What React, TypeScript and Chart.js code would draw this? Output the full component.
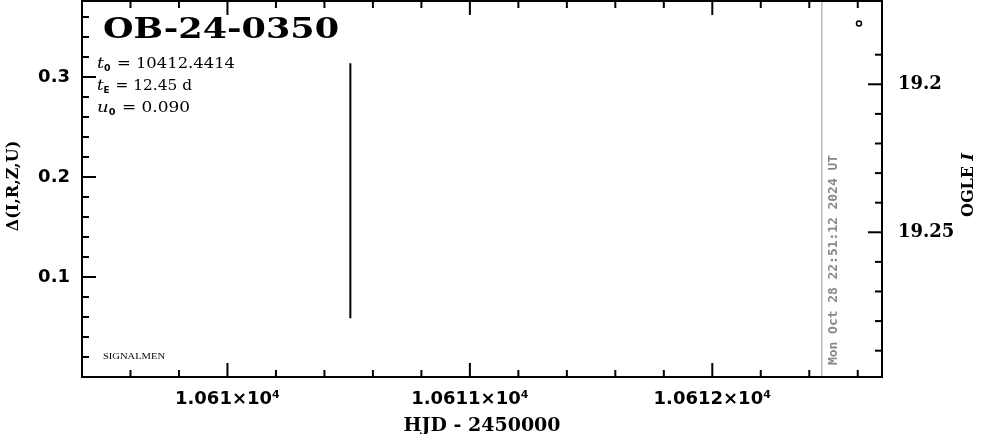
import React, { useEffect, useRef } from "react";
import { Chart, registerables } from "chart.js";
Chart.register(...registerables);

// ---- text content ----
const eventName = "OB-24-0350";
const paramT0 = "10412.4414";
const paramTE = "12.45 d";
const paramU0 = "0.090";
const footerText = "SIGNALMEN";
const nowLabel = "Mon Oct 28 22:51:12 2024 UT";
const xTitle = "HJD - 2450000";
const yTitle = "Δ(I,R,Z,U)";
const y2Title = "OGLE ";
const y2TitleItalic = "I";

// ---- axes ----
const xRange = [10609.4, 10612.7];
const xMajorTicks = [10610, 10611, 10612];
const xMajorLabels = ["1.061×10⁴", "1.0611×10⁴", "1.0612×10⁴"];
const xMinorTicks = [10609.6, 10609.8, 10610.2, 10610.4, 10610.6, 10610.8, 10611.2, 10611.4, 10611.6, 10611.8, 10612.2, 10612.4, 10612.6];

const deltaRange = [0, 0.376];
const deltaMajorTicks = [0.1, 0.2, 0.3];
const deltaMajorLabels = ["0.1", "0.2", "0.3"];
const deltaMinorTicks = [0.02, 0.04, 0.06, 0.08, 0.12, 0.14, 0.16, 0.18, 0.22, 0.24, 0.26, 0.28, 0.32, 0.34, 0.36];

const magRange = [19.17186, 19.29889];
const magMajorTicks = [19.2, 19.25];
const magMajorLabels = ["19.2", "19.25"];
const magMinorTicks = [19.19, 19.21, 19.22, 19.23, 19.24, 19.26, 19.27, 19.28, 19.29];

// ---- data ----
const barHJD = [10610.507, 10610.507];
const barDelta = [0.3137, 0.0587];
const pointHJD = [10612.605];
const pointDelta = [0.3534];
const nowHJD = 10612.452;

function drawFitted(ctx: CanvasRenderingContext2D, text: string, x: number, y: number, width: number, font: string) {
  ctx.font = font;
  const w = ctx.measureText(text).width;
  ctx.save();
  ctx.translate(x, y);
  ctx.scale(width / w, 1);
  ctx.fillText(text, 0, 0);
  ctx.restore();
}

function drawParam(ctx: CanvasRenderingContext2D, x: number, y: number, sym: string, sub: string, value: string, width: number) {
  const symFont = "italic 15px 'DejaVu Serif'";
  const subFont = "bold 8px 'DejaVu Sans'";
  const valFont = "14px 'DejaVu Serif'";
  ctx.font = symFont; const w1 = ctx.measureText(sym).width;
  ctx.font = subFont; const w2 = ctx.measureText(sub).width;
  const rest = " = " + value;
  ctx.font = valFont; const w3 = ctx.measureText(rest).width;
  const total = w1 + w2 + 1 + w3;
  ctx.save();
  ctx.translate(x, y);
  ctx.scale(width / total, 1);
  ctx.font = symFont; ctx.fillText(sym, 0, 0);
  ctx.font = subFont; ctx.fillText(sub, w1, 3);
  ctx.font = valFont; ctx.fillText(rest, w1 + w2 + 1, 0);
  ctx.restore();
}

const decorPlugin = {
  id: "decor",
  afterDatasetsDraw(chart: any) {
    const ctx: CanvasRenderingContext2D = chart.ctx;
    const ca = chart.chartArea;
    const xs = chart.scales.x;
    const ys = chart.scales.y;
    const y2 = chart.scales.y2;
    ctx.save();
    ctx.strokeStyle = "#000";
    ctx.lineWidth = 2;
    ctx.lineCap = "butt";
    const line = (x1: number, y1: number, x2: number, y2p: number) => {
      ctx.beginPath(); ctx.moveTo(x1, y1); ctx.lineTo(x2, y2p); ctx.stroke();
    };
    xMajorTicks.forEach((v) => {
      const p = xs.getPixelForValue(v);
      line(p, ca.bottom, p, ca.bottom - 14);
      line(p, ca.top, p, ca.top + 14);
    });
    xMinorTicks.forEach((v) => {
      const p = xs.getPixelForValue(v);
      line(p, ca.bottom, p, ca.bottom - 7);
      line(p, ca.top, p, ca.top + 7);
    });
    deltaMajorTicks.forEach((v) => {
      const p = ys.getPixelForValue(v);
      line(ca.left, p, ca.left + 14, p);
    });
    deltaMinorTicks.forEach((v) => {
      const p = ys.getPixelForValue(v);
      line(ca.left, p, ca.left + 7, p);
    });
    magMajorTicks.forEach((v) => {
      const p = y2.getPixelForValue(v);
      line(ca.right, p, ca.right - 14, p);
    });
    magMinorTicks.forEach((v) => {
      const p = y2.getPixelForValue(v);
      line(ca.right, p, ca.right - 7, p);
    });
    ctx.strokeRect(ca.left, ca.top, ca.right - ca.left, ca.bottom - ca.top);

    ctx.fillStyle = "#000";
    ctx.textBaseline = "alphabetic";
    ctx.textAlign = "left";
    drawFitted(ctx, eventName, ca.left + 21, 38, 236, "bold 27px 'DejaVu Serif'");
    drawParam(ctx, ca.left + 15, 68, "t", "0", paramT0, 138);
    drawParam(ctx, ca.left + 15, 90, "t", "E", paramTE, 95);
    drawParam(ctx, ca.left + 15, 112, "u", "0", paramU0, 93);
    drawFitted(ctx, footerText, ca.left + 21, 359, 62, "9px 'Liberation Serif'");

    const nx = xs.getPixelForValue(nowHJD);
    ctx.save();
    ctx.fillStyle = "#888";
    ctx.translate(nx + 15, 365);
    ctx.rotate(-Math.PI / 2);
    drawFitted(ctx, nowLabel, 0, 0, 210, "bold 13px 'DejaVu Sans Mono'");
    ctx.restore();

    ctx.fillStyle = "#000";
    ctx.textAlign = "center";
    ctx.textBaseline = "middle";
    ctx.font = "bold 19px 'DejaVu Serif'";
    ctx.fillText(xTitle, (ca.left + ca.right) / 2, 426);

    ctx.save();
    ctx.translate(14, (ca.top + ca.bottom) / 2 - 3);
    ctx.rotate(-Math.PI / 2);
    ctx.font = "bold 16px 'DejaVu Serif'";
    ctx.fillText(yTitle, 0, 0);
    ctx.restore();

    ctx.save();
    ctx.translate(969, 185);
    ctx.rotate(-Math.PI / 2);
    ctx.textAlign = "left";
    ctx.font = "bold 16px 'DejaVu Serif'";
    const wA = ctx.measureText(y2Title).width;
    ctx.font = "bold italic 16px 'DejaVu Serif'";
    const wB = ctx.measureText(y2TitleItalic).width;
    const start = -(wA + wB) / 2;
    ctx.font = "bold 16px 'DejaVu Serif'";
    ctx.fillText(y2Title, start, 0);
    ctx.font = "bold italic 16px 'DejaVu Serif'";
    ctx.fillText(y2TitleItalic, start + wA, 0);
    ctx.restore();

    ctx.restore();
  },
};

const zeroPad = (s: any) => {
  s.paddingTop = 0; s.paddingBottom = 0; s.paddingLeft = 0; s.paddingRight = 0;
};

export default function App() {
  const ref = useRef<HTMLCanvasElement | null>(null);
  useEffect(() => {
    if (!ref.current) return;
    const chart = new Chart(ref.current, {
      type: "scatter",
      data: {
        datasets: [
          {
            data: [
              { x: nowHJD, y: deltaRange[0] - 0.01 },
              { x: nowHJD, y: deltaRange[1] + 0.01 },
            ],
            showLine: true,
            borderColor: "#999",
            borderWidth: 1,
            pointRadius: 0,
          },
          {
            data: barHJD.map((x, i) => ({ x, y: barDelta[i] })),
            showLine: true,
            borderColor: "#000",
            borderWidth: 2,
            pointRadius: 0,
          },
          {
            data: pointHJD.map((x, i) => ({ x, y: pointDelta[i] })),
            showLine: false,
            pointRadius: 2.5,
            pointBorderWidth: 1.5,
            pointBorderColor: "#000",
            pointBackgroundColor: "#fff",
          },
        ],
      },
      options: {
        responsive: false,
        animation: false,
        events: [],
        layout: { padding: { top: 1, left: 0, right: 0, bottom: 0 }, autoPadding: false },
        plugins: { legend: { display: false }, tooltip: { enabled: false } },
        scales: {
          x: {
            type: "linear",
            position: "bottom",
            min: xRange[0],
            max: xRange[1],
            grid: { display: false },
            border: { display: false },
            afterBuildTicks: (s: any) => { s.ticks = xMajorTicks.map((value) => ({ value })); },
            afterFit: (s: any) => { s.height = 57; zeroPad(s); },
            ticks: {
              autoSkip: false,
              maxRotation: 0,
              padding: 4,
              color: "#000",
              font: { family: "'DejaVu Sans'", weight: "bold", size: 18 },
              callback: (v: any) => { const i = xMajorTicks.indexOf(v); return i >= 0 ? xMajorLabels[i] : ""; },
            },
          },
          y: {
            type: "linear",
            position: "left",
            min: deltaRange[0],
            max: deltaRange[1],
            grid: { display: false },
            border: { display: false },
            afterBuildTicks: (s: any) => { s.ticks = deltaMajorTicks.map((value) => ({ value })); },
            afterFit: (s: any) => { s.width = 82; zeroPad(s); },
            ticks: {
              autoSkip: false,
              padding: 4,
              color: "#000",
              font: { family: "'DejaVu Sans'", weight: "bold", size: 18 },
              callback: (v: any) => { const i = deltaMajorTicks.indexOf(v); return i >= 0 ? deltaMajorLabels[i] : ""; },
            },
          },
          y2: {
            type: "linear",
            position: "right",
            reverse: true,
            min: magRange[0],
            max: magRange[1],
            grid: { display: false },
            border: { display: false },
            afterBuildTicks: (s: any) => { s.ticks = magMajorTicks.map((value) => ({ value })); },
            afterFit: (s: any) => { s.width = 104; zeroPad(s); },
            ticks: {
              autoSkip: false,
              padding: 8,
              color: "#000",
              font: { family: "'DejaVu Serif'", weight: "bold", size: 18 },
              callback: (v: any) => { const i = magMajorTicks.indexOf(v); return i >= 0 ? magMajorLabels[i] : ""; },
            },
          },
        },
      },
      plugins: [decorPlugin],
    } as any);
    return () => chart.destroy();
  }, []);
  return (
    <div style={{ position: "fixed", left: 0, top: 0, width: 986, height: 434, background: "#fff" }}>
      <canvas ref={ref} width={986} height={434} style={{ display: "block" }} />
    </div>
  );
}
